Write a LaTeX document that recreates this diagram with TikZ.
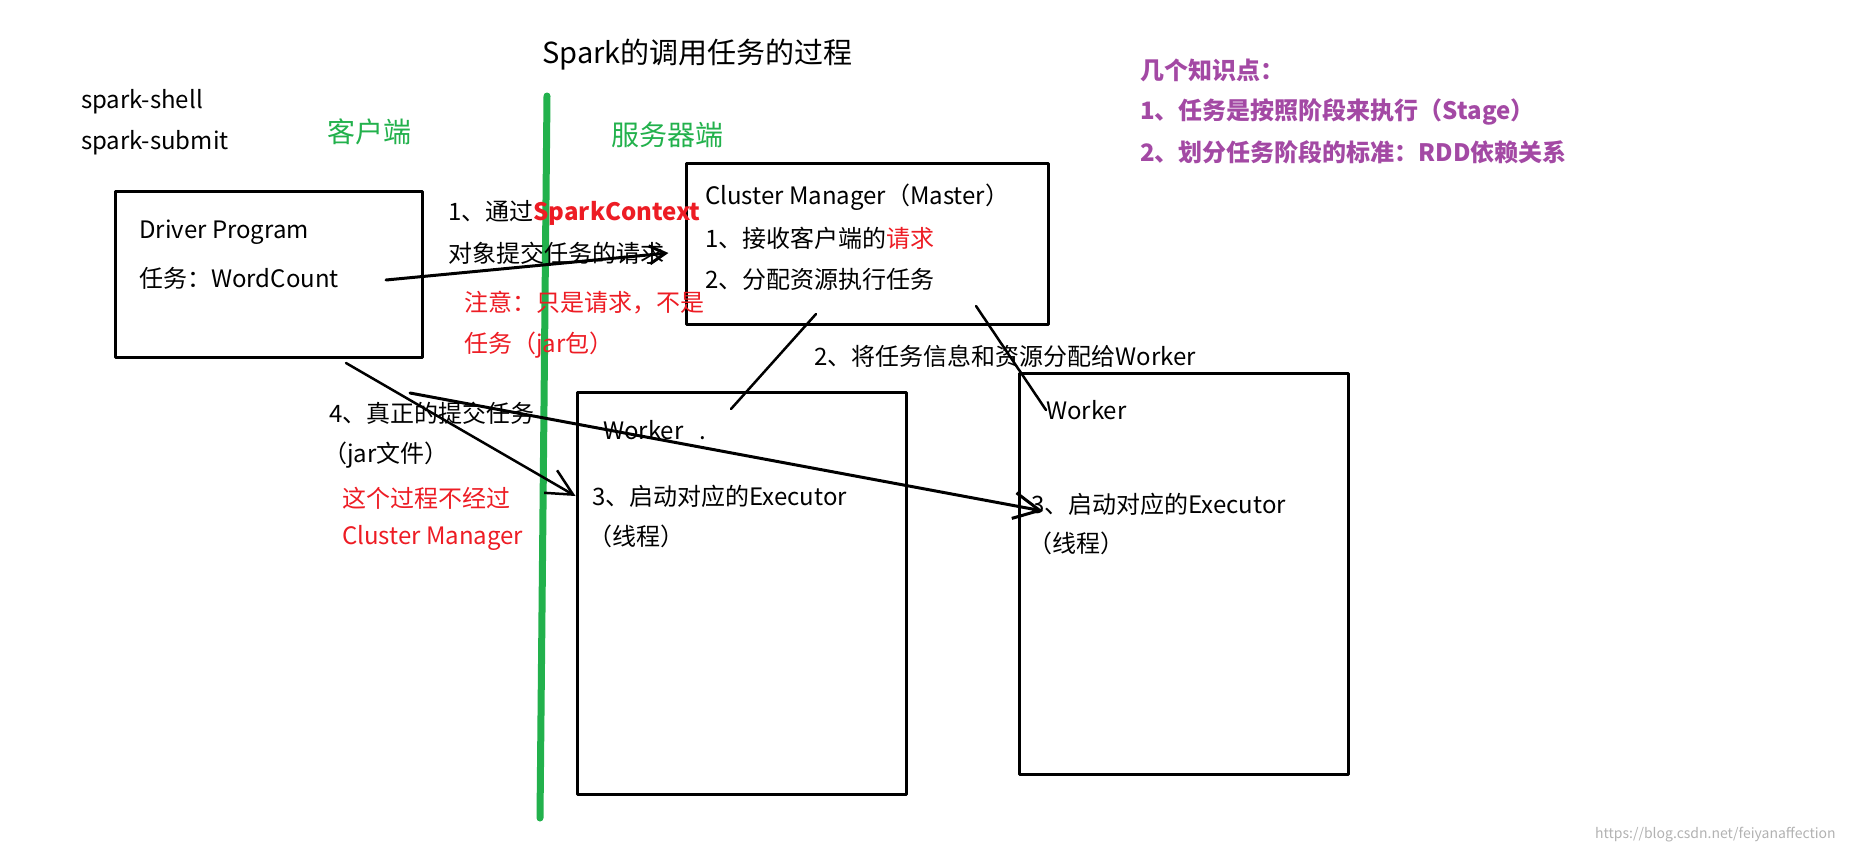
\documentclass[tikz,border=0pt]{standalone}
\usepackage{fontspec}
\setmainfont{Noto Sans CJK SC}
\usetikzlibrary{arrows.meta,positioning}
\definecolor{paintgreen}{HTML}{22B14C}
\definecolor{paintred}{HTML}{ED1C24}
\definecolor{paintpurple}{HTML}{A349A4}

\begin{document}
\begin{tikzpicture}[x=1pt,y=-1pt,line cap=round,line join=round,
                    >={Straight Barb[length=26pt,width=26pt]},
                    node distance=41pt,on grid]
  \tikzstyle{every node}=[font=\fontsize{24}{28}\selectfont,inner sep=0pt]
  \tikzstyle{txt}=[anchor=west]
  \tikzstyle{redtxt}=[txt,text=paintred]
  \tikzstyle{sidetxt}=[txt,text=paintgreen,font=\fontsize{28}{32}\selectfont]
  \tikzstyle{tiptxt}=[txt,text=paintpurple,font=\fontsize{24}{28}\selectfont\bfseries]
  \tikzstyle{box}=[draw,line width=3pt]
  \tikzstyle{link}=[line width=2.5pt]
  \useasboundingbox (0,0) rectangle (1850,860);

  % title and the two sides
  \node[txt,font=\fontsize{29}{34}\selectfont] (title) at (542,55) {Spark的调用任务的过程};
  \node[txt] (shell) at (81,102) {spark-shell};
  \node[txt] (submit) [below=41pt of shell.west,anchor=west] {spark-submit};
  \node[sidetxt] (client) at (327,132) {客户端};
  \node[sidetxt] (server) at (611,135) {服务器端};
  \draw[paintgreen,line width=7pt] (547,96) -- (540,818);

  % boxes
  \node[box,minimum width=307pt,minimum height=166pt] (driver) at (268.5,274) {};
  \node[box,minimum width=362pt,minimum height=161pt] (cm) at (867,243.5) {};
  \node[box,minimum width=329pt,minimum height=402pt] (w1) at (741.5,593) {};
  \node[box,minimum width=329pt,minimum height=401pt] (w2) at (1183.5,573.5) {};

  \node[txt] (dprog) at (139,232) {Driver Program};
  \node[txt] (dtask) [below=46pt of dprog.west,anchor=west] {任务：WordCount};

  \node[txt] (cm0) at (705,197) {Cluster Manager（Master）};
  \node[txt] (cm1) [below=of cm0.west,anchor=west] {1、接收客户端的{\color{paintred}请求}};
  \node[txt] (cm2) [below=of cm1.west,anchor=west] {2、分配资源执行任务};

  \node[txt] (wk1) at (603,430) {Worker\hspace{16pt}.};
  \node[txt] (exec1) at (592,496) {3、启动对应的Executor};
  \node[txt] (thr1) at (588,536) {（线程）};

  \node[txt] (wk2) at (1046,410) {Worker};
  \node[txt] (exec2) at (1031,504) {3、启动对应的Executor};
  \node[txt] (thr2) at (1028,543) {（线程）};

  % step labels
  \node[txt] (req1) at (448,213) {1、通过{\color{paintred}\bfseries SparkContext}};
  \node[txt] (req2) [below=40pt of req1.west,anchor=west] {对象提交任务的请求};
  \node[redtxt] (warn1) at (464,303) {注意：只是请求，不是};
  \node[redtxt] (warn2) [below=42pt of warn1.west,anchor=west] {任务（jar包）};
  \node[txt] (assign) at (814,356) {2、将任务信息和资源分配给Worker};
  \node[txt] (sub1) at (329,413) {4、真正的提交任务};
  \node[txt] (sub2) at (323,455) {（jar文件）};
  \node[redtxt] (skip1) at (342,498) {这个过程不经过};
  \node[redtxt] (skip2) [below=40pt of skip1.west,anchor=west] {Cluster Manager};

  % knowledge points
  \node[tiptxt] (pt0) at (1140,70) {几个知识点：};
  \node[tiptxt] (pt1) at (1140,112) {1、任务是按照阶段来执行（Stage）};
  \node[tiptxt] (pt2) [below=40pt of pt1.west,anchor=west] {2、划分任务阶段的标准：RDD依赖关系};

  \node[txt,text=black!30,font=\fontsize{14}{16}\selectfont] (mark) at (1595,835)
    {https://blog.csdn.net/feiyanaffection};

  % connectors
  \coordinate (a1) at (386,280);
  \coordinate (c1) at (816,314);
  \coordinate (w1in) at (731,409);
  \coordinate (c2) at (976,306);
  \coordinate (a4) at (346,363);
  \coordinate (a5) at (410,393);
  \coordinate (w2in) at (1043,511);

  \draw[->,line width=3pt,>={Straight Barb[length=16pt,width=18pt]}] (a1) -- ([xshift=4pt]req2.east);
  \draw[link] (c1) -- (w1in);
  \draw[link] (c2) -- (wk2.west);
  \draw[->,link] (a4) -- (w1.west |- exec1);
  \draw[->,line width=3pt] (a5) -- (w2in);
\end{tikzpicture}
\end{document}
